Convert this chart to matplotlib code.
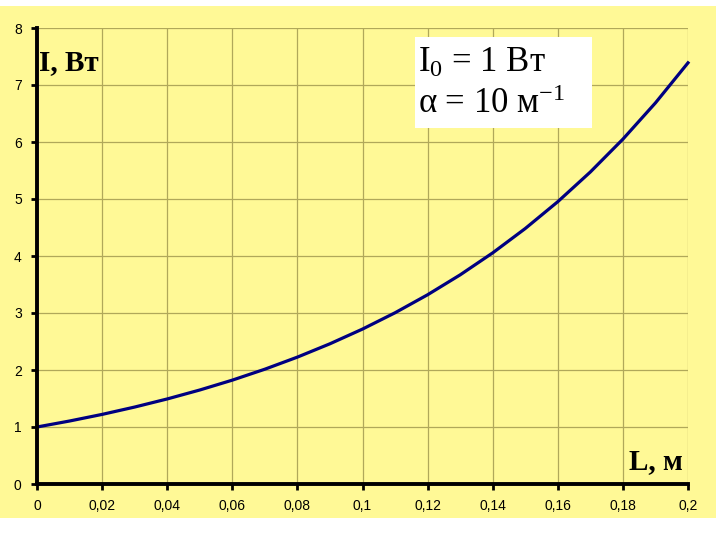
import matplotlib.pyplot as plt
from matplotlib.patches import Rectangle

plt.rcParams["mathtext.fontset"] = "custom"
plt.rcParams["mathtext.rm"] = "Liberation Serif"
plt.rcParams["mathtext.it"] = "Liberation Serif:italic"

# thickness L, m
L = [0.0, 0.01, 0.02, 0.03, 0.04, 0.05, 0.06, 0.07, 0.08, 0.09, 0.10,
     0.11, 0.12, 0.13, 0.14, 0.15, 0.16, 0.17, 0.18, 0.19, 0.20]
# intensity I, W
I = [1.0, 1.105, 1.221, 1.35, 1.492, 1.649, 1.822, 2.014, 2.226, 2.46, 2.718,
     3.004, 3.32, 3.669, 4.055, 4.482, 4.953, 5.474, 6.05, 6.686, 7.389]

x_ticks = [0, 0.02, 0.04, 0.06, 0.08, 0.1, 0.12, 0.14, 0.16, 0.18, 0.2]
x_labels = ["0", "0,02", "0,04", "0,06", "0,08", "0,1", "0,12", "0,14", "0,16", "0,18", "0,2"]
y_ticks = [0, 1, 2, 3, 4, 5, 6, 7, 8]

fig = plt.figure(figsize=(7.2, 5.4), dpi=100)
fig.patches.append(Rectangle((0, 1 - 518 / 540), 716 / 720, 512 / 540,
                             transform=fig.transFigure, facecolor="#fff996",
                             edgecolor="none", zorder=-5))

ax = fig.add_axes([37 / 720, 1 - 484 / 540, 651 / 720, 456 / 540])
ax.set_zorder(1)
ax.set_facecolor("none")
ax.plot(L, I, color="#000080", lw=2.3, zorder=3, clip_on=False)

ax.set_xlim(0, 0.2)
ax.set_ylim(0, 8)
ax.set_xticks(x_ticks)
ax.set_xticklabels(x_labels)
ax.set_yticks(y_ticks)
ax.grid(True, color="#b0a85a", lw=0.9)
ax.set_axisbelow(True)
for s in ["top", "right"]:
    ax.spines[s].set_visible(False)
for s in ["left", "bottom"]:
    ax.spines[s].set_linewidth(2.8)
    ax.spines[s].set_zorder(4)
ax.tick_params(direction="out", length=4, width=2, labelsize=10, pad=7)
for lab in ax.get_xticklabels() + ax.get_yticklabels():
    lab.set_fontfamily("Liberation Sans")

ax.text(0.0005, 7.4, "I, Вт", fontfamily="Liberation Serif", fontweight="bold",
        fontsize=21, va="center", ha="left")
ax.text(0.1985, 0.4, "L, м", fontfamily="Liberation Serif", fontweight="bold",
        fontsize=21, va="center", ha="right")

fig.patches.append(Rectangle((415 / 720, 1 - 128 / 540), 177 / 720, 91 / 540,
                             transform=fig.transFigure, facecolor="white",
                             edgecolor="none", zorder=4))
fig.text(418 / 720, 1 - 63 / 540, r"I$_\mathrm{0}$ = 1 Вт", fontfamily="Liberation Serif",
         fontsize=25, va="center", ha="left", zorder=5)
fig.text(418 / 720, 1 - 104 / 540, r"α = 10 м$^\mathrm{-1}$", fontfamily="Liberation Serif",
         fontsize=25, va="center", ha="left", zorder=5)

fig.savefig("out.png", dpi=100)
